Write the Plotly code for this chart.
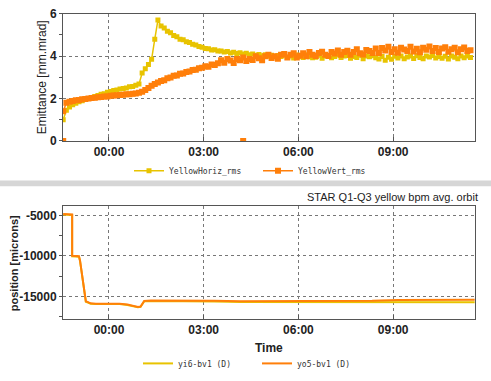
import plotly.graph_objects as go
from datetime import datetime, timedelta

BASE = datetime(2008, 3, 1)

# --- Top panel: emittance (sampled every 6 min starting at -87 min) ---
emit_start_min = -87
emit_step_min = 6
horiz_rms = [
    1.0, 1.45, 1.6, 1.7, 1.78, 1.85, 1.9, 1.97, 2.0, 2.05,
    2.1, 2.14, 2.2, 2.23, 2.3, 2.33, 2.38, 2.4, 2.45, 2.47,
    2.5, 2.55, 2.57, 2.62, 2.68, 3.2, 3.4, 3.6, 3.85, 4.8,
    5.7, 5.42, 5.33, 5.17, 5.1, 4.97, 4.92, 4.8, 4.77, 4.68,
    4.64, 4.56, 4.52, 4.45, 4.42, 4.36, 4.35, 4.29, 4.3, 4.24,
    4.24, 4.19, 4.22, 4.15, 4.18, 4.12, 4.16, 4.1, 4.13, 4.07,
    4.1, 4.04, 4.08, 4.02, 4.06, 3.99, 4.04, 3.97, 4.03, 3.98,
    4.04, 3.95, 4.01, 3.91, 4.05, 3.99, 3.94, 4.06, 3.97, 3.92,
    3.95, 4.04, 3.90, 4.00, 4.03, 3.92, 3.98, 4.05, 3.94, 4.01,
    4.03, 3.90, 3.98, 3.94, 4.04, 3.88, 4.00, 3.97, 4.02, 3.92,
    3.87, 3.98, 3.81, 3.95, 3.85, 3.99, 3.91, 4.00, 3.88, 3.96,
    4.00, 3.89, 4.02, 3.94, 3.88, 4.01, 3.96, 4.03, 3.91, 3.98,
    3.90, 3.99, 3.86, 4.01, 3.95, 3.88, 4.00, 3.92, 4.01, 3.93,
]
vert_rms = [
    1.4, 1.8, 1.85, 1.88, 1.92, 1.93, 1.97, 1.98, 2.0, 2.02,
    2.03, 2.06, 2.07, 2.1, 2.1, 2.13, 2.14, 2.15, 2.17, 2.18,
    2.2, 2.2, 2.22, 2.24, 2.27, 2.32, 2.4, 2.5, 2.6, 2.68,
    2.75, 2.83, 2.86, 2.96, 2.99, 3.07, 3.08, 3.17, 3.18, 3.25,
    3.28, 3.34, 3.36, 3.43, 3.45, 3.52, 3.50, 3.60, 3.58, 3.66,
    3.80, 3.69, 3.87, 3.79, 3.68, 3.86, 3.80, 3.93, 3.77, 3.86,
    3.82, 3.99, 3.90, 3.81, 3.99, 4.06, 3.91, 3.99, 3.88, 4.06,
    4.10, 3.93, 4.06, 4.14, 3.93, 4.02, 4.13, 3.99, 4.19, 4.07,
    4.00, 4.15, 4.21, 4.07, 4.01, 4.20, 4.12, 4.27, 4.06, 4.19,
    4.25, 4.06, 4.20, 4.33, 4.14, 4.08, 4.29, 4.24, 4.15, 4.36,
    4.15, 4.38, 4.26, 4.44, 4.19, 4.33, 4.16, 4.39, 4.31, 4.24,
    4.44, 4.22, 4.35, 4.18, 4.40, 4.30, 4.46, 4.24, 4.38, 4.20,
    4.36, 4.42, 4.21, 4.32, 4.40, 4.18, 4.33, 4.41, 4.24, 4.28,
]
vert_outlier_min = [-87, 255]
vert_outlier_val = [0.0, 0.0]

# --- Bottom panel: bpm orbit ---
orbit_min = [-87, -70, -70, -57, -55, -52, -49, -46, -44, -40, -35, -25, 0, 20, 35, 45,
             55, 60, 63, 67, 80, 150, 200, 250, 290, 330, 400, 450, 500, 550, 600, 650, 695]
yo5_bv1 = [-4850, -4900, -10000, -10050, -10600, -12000, -13500, -14900, -15600, -15700,
           -15850, -15900, -15900, -15900, -16000, -16150, -16300, -16250, -15900, -15550,
           -15500, -15500, -15550, -15600, -15600, -15550, -15600, -15550, -15550, -15450,
           -15420, -15400, -15400]
yi6_bv1 = [-4900, -4950, -10050, -10100, -10650, -12050, -13550, -14950, -15650, -15750,
           -15900, -15950, -15950, -15950, -16050, -16200, -16350, -16300, -15950, -15600,
           -15570, -15570, -15620, -15680, -15680, -15640, -15680, -15700, -15720, -15700,
           -15720, -15720, -15720]
orbit_ticks = [-15000, -10000, -5000]
orbit_minor_ticks = [-17500, -12500, -7500]

x_range_min = [-87.4, 695.6]

YELLOW = "#e8c300"
ORANGE = "#ff7f0a"
FONT = "Liberation Sans, Arial, sans-serif"


def ts(m):
    return BASE + timedelta(minutes=m)


emit_t = [ts(emit_start_min + emit_step_min * i) for i in range(len(horiz_rms))]

fig = go.Figure()
fig.add_trace(go.Scatter(
    x=emit_t, y=horiz_rms, name="YellowHoriz_rms", mode="lines+markers",
    line=dict(color=YELLOW, width=1.5), marker=dict(symbol="square", size=5, color=YELLOW),
    xaxis="x", yaxis="y", legend="legend"))
fig.add_trace(go.Scatter(
    x=emit_t, y=vert_rms, name="YellowVert_rms", mode="lines+markers",
    line=dict(color=ORANGE, width=1.5), marker=dict(symbol="square", size=6, color=ORANGE),
    xaxis="x", yaxis="y", legend="legend"))
fig.add_trace(go.Scatter(
    x=[ts(m) for m in vert_outlier_min], y=vert_outlier_val, mode="markers",
    marker=dict(symbol="square", size=6, color=ORANGE), showlegend=False,
    xaxis="x", yaxis="y"))

orbit_t = [ts(m) for m in orbit_min]
fig.add_trace(go.Scatter(
    x=orbit_t, y=yi6_bv1, name="yi6-bv1 (D)", mode="lines",
    line=dict(color=YELLOW, width=2), xaxis="x2", yaxis="y2", legend="legend2"))
fig.add_trace(go.Scatter(
    x=orbit_t, y=yo5_bv1, name="yo5-bv1 (D)", mode="lines",
    line=dict(color=ORANGE, width=2), xaxis="x2", yaxis="y2", legend="legend2"))

W, H = 491, 381
xdom = [63 / W, 475 / W]
top_dom = [1 - 139 / H, 1 - 7 / H]
bot_dom = [1 - 324 / H, 1 - 207 / H]

tickfont = dict(family=FONT, size=12, color="#222", weight="bold")
common_x = dict(
    type="date", range=[ts(x_range_min[0]), ts(x_range_min[1])], domain=xdom,
    tickformat="%H:%M", dtick=3 * 3600 * 1000, tick0=BASE,
    showgrid=True, gridcolor="#777", griddash="dot", gridwidth=1,
    showline=True, linecolor="#555", linewidth=1, mirror=True,
    ticks="inside", ticklen=4, tickcolor="#555", tickfont=tickfont, zeroline=False,
)
fig.update_layout(
    width=W, height=H, margin=dict(l=0, r=0, t=0, b=0),
    paper_bgcolor="white", plot_bgcolor="white",
    xaxis=dict(anchor="y", **common_x),
    xaxis2=dict(anchor="y2", **common_x),
    yaxis=dict(
        domain=top_dom, range=[0, 6], dtick=2, anchor="x",
        showgrid=True, gridcolor="#777", griddash="dot", gridwidth=1,
        showline=True, linecolor="#555", linewidth=1, mirror=True,
        ticks="outside", ticklen=3, tickcolor="#555", tickfont=tickfont, zeroline=False,
        minor=dict(dtick=1, ticks="outside", ticklen=3, tickcolor="#555", showgrid=False),
    ),
    yaxis2=dict(
        domain=bot_dom, range=[-17800, -3900], anchor="x2",
        tickmode="array", tickvals=orbit_ticks, ticktext=[str(v) for v in orbit_ticks],
        showgrid=True, gridcolor="#777", griddash="dot", gridwidth=1,
        showline=True, linecolor="#555", linewidth=1, mirror=True,
        ticks="outside", ticklen=3, tickcolor="#555", tickfont=tickfont, zeroline=False,
        minor=dict(tickvals=orbit_minor_ticks, ticks="outside", ticklen=3,
                   tickcolor="#555", showgrid=False),
    ),
    legend=dict(orientation="h", x=129 / W, y=1 - 170 / H, xanchor="left", yanchor="middle",
                font=dict(family="DejaVu Sans Mono, monospace", size=8, color="#333"),
                entrywidth=84, bgcolor="rgba(0,0,0,0)"),
    legend2=dict(orientation="h", x=138 / W, y=1 - 370 / H, xanchor="left", yanchor="middle",
                 font=dict(family="DejaVu Sans Mono, monospace", size=8, color="#333"),
                 entrywidth=74, bgcolor="rgba(0,0,0,0)"),
    shapes=[dict(type="rect", xref="paper", yref="paper", x0=0, x1=1,
                 y0=1 - 186 / H, y1=1 - 180 / H, fillcolor="#d6d6d6", line=dict(width=0))],
    annotations=[
        dict(text="Emittance [mm.mrad]", xref="paper", yref="paper",
             x=42 / W, y=1 - 73 / H, xanchor="center", yanchor="middle", textangle=-90,
             showarrow=False, font=dict(family=FONT, size=12, color="#222")),
        dict(text="position [microns]", xref="paper", yref="paper",
             x=14 / W, y=1 - 266 / H, xanchor="center", yanchor="middle", textangle=-90,
             showarrow=False, font=dict(family=FONT, size=11, color="#222", weight="bold")),
        dict(text="STAR Q1-Q3 yellow bpm avg. orbit", xref="paper", yref="paper",
             x=480 / W, y=1 - 197 / H, xanchor="right", yanchor="middle", showarrow=False,
             font=dict(family=FONT, size=11, color="#222")),
        dict(text="Time", xref="paper", yref="paper", x=269 / W, y=1 - 354 / H,
             xanchor="center", yanchor="middle", showarrow=False,
             font=dict(family=FONT, size=12, color="#222", weight="bold")),
    ],
)

fig.write_html("out.html")
